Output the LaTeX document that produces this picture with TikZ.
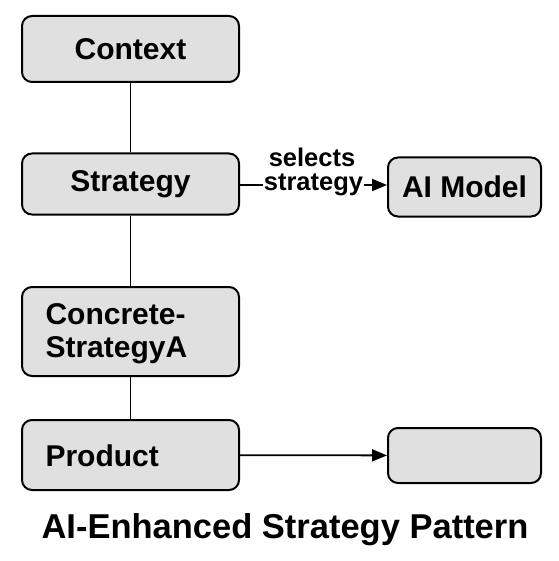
\documentclass[tikz,border=0pt]{standalone}
\usepackage{fontspec}
\setmainfont{Liberation Sans}
\usetikzlibrary{arrows.meta}

\begin{document}
\begin{tikzpicture}[x=1pt,y=-1pt,
  box/.style={draw,line width=2pt,rounded corners=10pt,fill=boxgray,inner sep=0pt},
  link/.style={line width=1.8pt},
  flow/.style={line width=1.8pt,-{Triangle[length=15pt,width=12pt]}},
  boxtext/.style={font=\fontsize{30}{33}\selectfont\bfseries}]
% Define colours
\definecolor{boxgray}{RGB}{224,224,224}
\useasboundingbox (0,0) rectangle (558,561);

% Draw pattern boxes
\node[box,minimum width=217pt,minimum height=66pt] (context) at (130.5,49) {};
\node[box,minimum width=217pt,minimum height=61pt] (strategy) at (130.5,184) {};
\node[box,minimum width=217pt,minimum height=89pt] (concrete) at (130.5,331.5) {};
\node[box,minimum width=217pt,minimum height=70pt] (product) at (130.5,455) {};
\node[box,minimum width=153pt,minimum height=59pt] (aimodel) at (464.5,187) {};
\node[box,minimum width=153pt,minimum height=55pt] (output) at (464.5,455.5) {};

% Add box texts
\node[boxtext] at (context) {Context};
\node[boxtext] at (strategy) {Strategy};
\node[boxtext] at (aimodel) {AI Model};
\node[boxtext,anchor=west,align=left] (concretetext) at (42,334) {Concrete-\\StrategyA};
\node[boxtext,anchor=west] (producttext) at (42,456) {Product};

% Add connectors
\draw[link] (context) -- (strategy);
\draw[link] (strategy) -- (concrete);
\draw[link] (concrete) -- (product);
\draw[flow] (strategy.east |- 0,185) coordinate (selfrom) -- (aimodel.west |- 0,185)
  node[midway,fill=white,inner sep=1pt,font=\fontsize{25.5}{28}\selectfont\bfseries] (sellabel) {strategy};
\node[font=\fontsize{25.5}{28}\selectfont\bfseries] (selword) at (312,157) {selects};
\draw[flow] (product) -- (output);

% Add title
\node[font=\fontsize{34.5}{38}\selectfont\bfseries] (title) at (285,530) {AI-Enhanced Strategy Pattern};
\end{tikzpicture}
\end{document}
